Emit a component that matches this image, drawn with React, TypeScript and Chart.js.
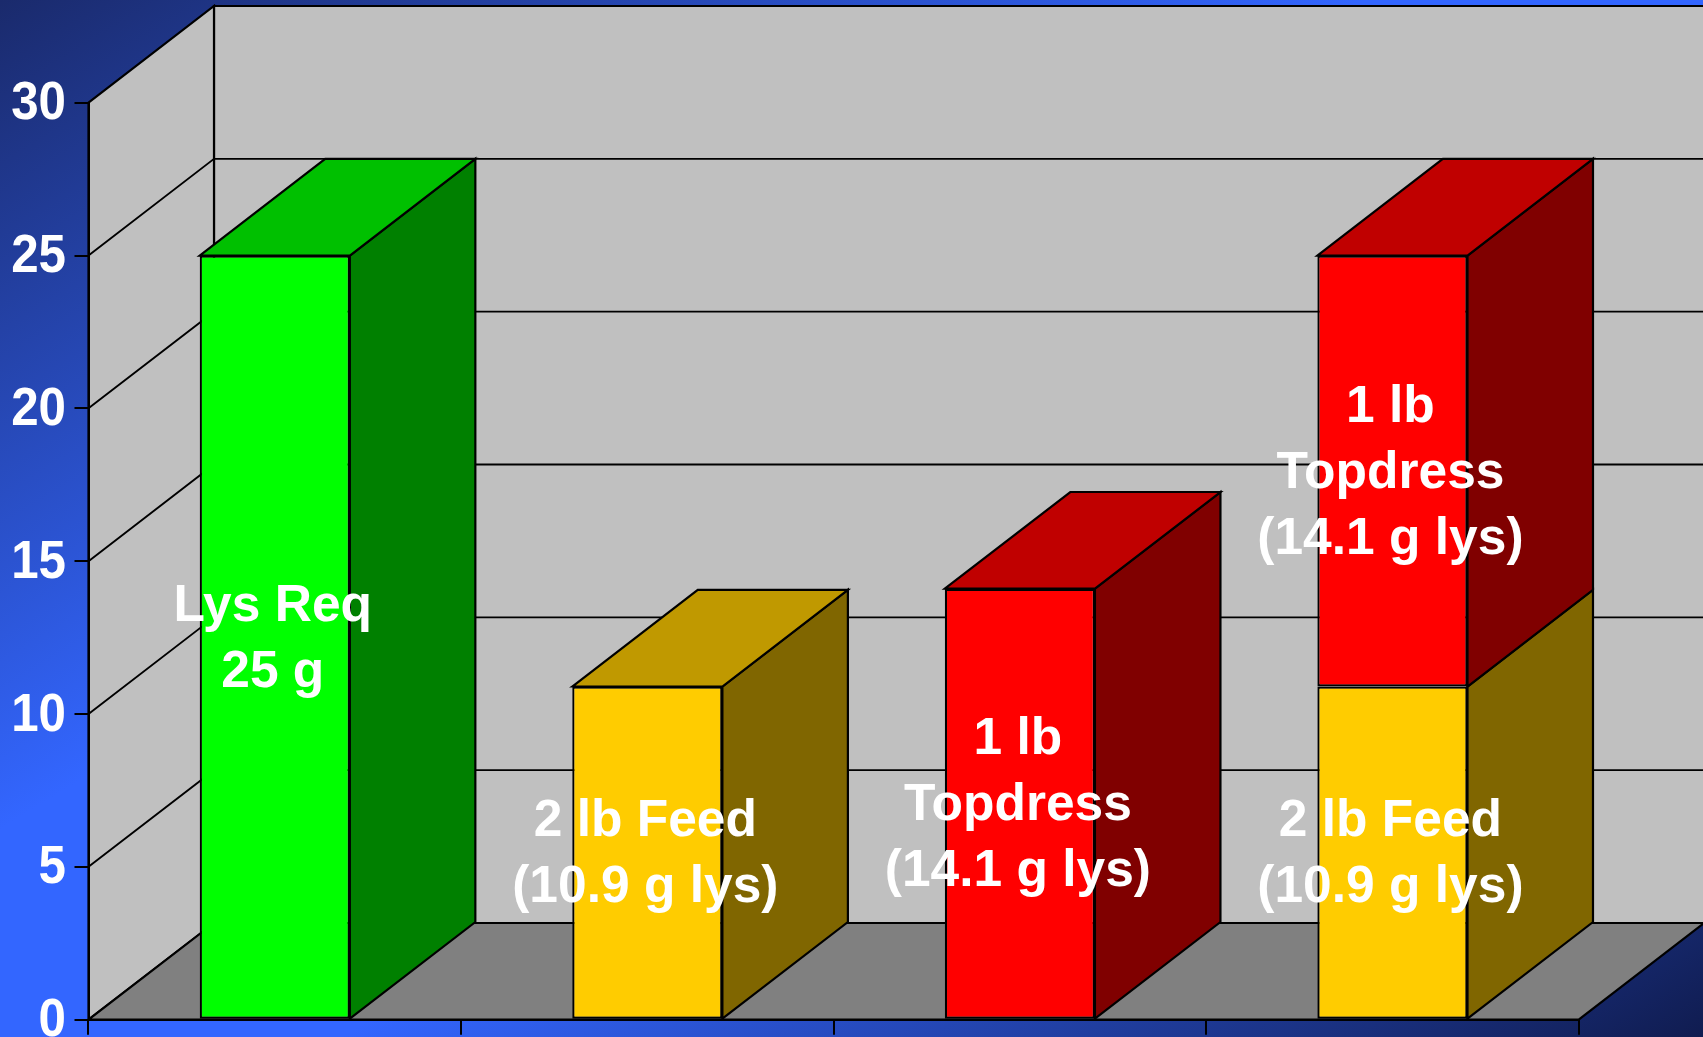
import React, { useEffect, useRef } from "react";
import { Chart, registerables } from "chart.js";

Chart.register(...registerables);

const categories = ["Lys Req", "2 lb Feed", "1 lb Topdress", "Feed + Topdress"];
const lysReq = [25, null, null, null];
const feed = [null, 10.9, null, 10.9];
const topdress = [null, null, 14.1, 14.1];
const yTicksMax = 30;
const yTicksStep = 5;

const lysLabels = [["Lys Req", "25 g"], null, null, null];
const feedLabels = [null, ["2 lb Feed", "(10.9 g lys)"], null, ["2 lb Feed", "(10.9 g lys)"]];
const topLabels = [null, null, ["1 lb", "Topdress", "(14.1 g lys)"], ["1 lb", "Topdress", "(14.1 g lys)"]];

const DX = 125.5;
const DY = 96.7;
const FONT = "'Liberation Sans', Arial, sans-serif";

function poly(ctx: CanvasRenderingContext2D, pts: number[][], fill: string | null, lw: number) {
  ctx.beginPath();
  pts.forEach((p, i) => (i ? ctx.lineTo(p[0], p[1]) : ctx.moveTo(p[0], p[1])));
  ctx.closePath();
  if (fill) {
    ctx.fillStyle = fill;
    ctx.fill();
  }
  if (lw) {
    ctx.lineWidth = lw;
    ctx.strokeStyle = "#000";
    ctx.lineJoin = "miter";
    ctx.stroke();
  }
}

const scenePlugin = {
  id: "scene3d",
  beforeDraw(chart: any) {
    const { ctx, width: W, height: H, scales, chartArea } = chart;
    const s = 2 / (1 / (W * W) + 1 / (H * H));
    const g = ctx.createLinearGradient(0, 0, s / W, s / H);
    g.addColorStop(0, "#1a2a6c");
    g.addColorStop(0.4, "#3366ff");
    g.addColorStop(0.6, "#3366ff");
    g.addColorStop(1, "#101c50");
    ctx.save();
    ctx.fillStyle = g;
    ctx.fillRect(0, 0, W, H);
    const { left: l, right: r, top: t, bottom: b } = chartArea;
    // back wall, side wall, floor
    poly(ctx, [[l + DX, t - DY], [r + DX, t - DY], [r + DX, b - DY], [l + DX, b - DY]], "#c0c0c0", 2.2);
    poly(ctx, [[l, t], [l + DX, t - DY], [l + DX, b - DY], [l, b]], "#c0c0c0", 2.2);
    poly(ctx, [[l, b], [l + DX, b - DY], [r + DX, b - DY], [r, b]], "#808080", 2.2);
    // gridlines from the value scale
    ctx.strokeStyle = "#000";
    ctx.lineWidth = 1.9;
    scales.y.ticks.forEach((tick: any) => {
      if (tick.value === 0 || tick.value === yTicksMax) return;
      const y = scales.y.getPixelForValue(tick.value);
      ctx.beginPath();
      ctx.moveTo(l, y);
      ctx.lineTo(l + DX, y - DY);
      ctx.lineTo(r + DX, y - DY);
      ctx.stroke();
    });
    ctx.restore();
  },
  beforeDatasetsDraw(chart: any) {
    const { ctx, data } = chart;
    ctx.save();
    data.datasets.forEach((ds: any, di: number) => {
      chart.getDatasetMeta(di).data.forEach((bar: any, i: number) => {
        if (ds.data[i] == null) return;
        const p = bar.getProps(["x", "y", "base", "width"]);
        const xl = p.x - p.width / 2;
        const xr = p.x + p.width / 2;
        poly(ctx, [[xr, p.base], [xr + DX, p.base - DY], [xr + DX, p.y - DY], [xr, p.y]], ds.sideColor, 2.2);
        const covered = data.datasets.slice(di + 1).some((o: any) => o.data[i] != null);
        if (!covered) {
          poly(ctx, [[xl, p.y], [xl + DX, p.y - DY], [xr + DX, p.y - DY], [xr, p.y]], ds.topColor, 2.2);
        }
      });
    });
    ctx.restore();
  },
  afterDatasetsDraw(chart: any) {
    const { ctx, data, scales } = chart;
    ctx.save();
    ctx.fillStyle = "#fff";
    ctx.font = `bold 51.5px ${FONT}`;
    ctx.textAlign = "center";
    ctx.textBaseline = "middle";
    data.datasets.forEach((ds: any, di: number) => {
      chart.getDatasetMeta(di).data.forEach((bar: any, i: number) => {
        const lines = ds.lines[i];
        if (!lines || ds.data[i] == null) return;
        const p = bar.getProps(["x", "y", "base"]);
        const cy = (p.y + p.base) / 2;
        lines.forEach((ln: string, k: number) => {
          ctx.fillText(ln, p.x - 2, cy + 2.5 + (k - (lines.length - 1) / 2) * 66);
        });
      });
    });
    // value-axis labels, slightly condensed like the original
    ctx.textAlign = "right";
    ctx.font = `bold 53px ${FONT}`;
    scales.y.ticks.forEach((tick: any) => {
      const y = scales.y.getPixelForValue(tick.value);
      ctx.save();
      ctx.translate(66, y);
      ctx.scale(0.93, 1);
      ctx.fillText(String(tick.value), 0, 2);
      ctx.restore();
    });
    ctx.restore();
  },
};

export default function App() {
  const ref = useRef<HTMLCanvasElement>(null);
  useEffect(() => {
    const chart = new Chart(ref.current as HTMLCanvasElement, {
      type: "bar",
      plugins: [scenePlugin],
      data: {
        labels: categories,
        datasets: [
          { label: "Lys Req", data: lysReq, backgroundColor: "#00ff00", sideColor: "#008000", topColor: "#00c000", lines: lysLabels },
          { label: "Feed", data: feed, backgroundColor: "#ffcc00", sideColor: "#806600", topColor: "#c09900", lines: feedLabels },
          { label: "Topdress", data: topdress, backgroundColor: "#ff0000", sideColor: "#800000", topColor: "#c00000", lines: topLabels },
        ].map((d) => ({
          ...d,
          borderColor: "#000",
          borderWidth: 2.2,
          borderSkipped: false,
          categoryPercentage: 1,
          barPercentage: 0.403,
        })) as any,
      },
      options: {
        responsive: false,
        animation: false,
        layout: { padding: { left: 0, top: 102.7, right: 1703 - 1578.7, bottom: 0 } },
        plugins: { legend: { display: false }, tooltip: { enabled: false } },
        scales: {
          x: {
            stacked: true,
            afterFit: (s: any) => { s.height = 17.3; s.paddingLeft = 0; s.paddingRight = 0; s.paddingTop = 0; s.paddingBottom = 0; },
            ticks: { display: false },
            border: { display: true, color: "#000", width: 2 },
            grid: { offset: true, drawOnChartArea: false, drawTicks: true, tickLength: 15, color: "#000", lineWidth: 2 },
          },
          y: {
            stacked: true,
            min: 0,
            max: yTicksMax,
            afterFit: (s: any) => { s.width = 88.5; s.paddingLeft = 0; s.paddingRight = 0; s.paddingTop = 0; s.paddingBottom = 0; },
            ticks: { stepSize: yTicksStep, display: false },
            border: { display: true, color: "#000", width: 2 },
            grid: { drawOnChartArea: false, drawTicks: true, tickLength: 14, color: "#000", lineWidth: 2 },
          },
        },
      } as any,
    });
    return () => chart.destroy();
  }, []);
  return (
    <div style={{ position: "absolute", left: 0, top: 0, width: 1703, height: 1037, overflow: "hidden" }}>
      <canvas ref={ref} width={1703} height={1037} style={{ display: "block" }} />
    </div>
  );
}
